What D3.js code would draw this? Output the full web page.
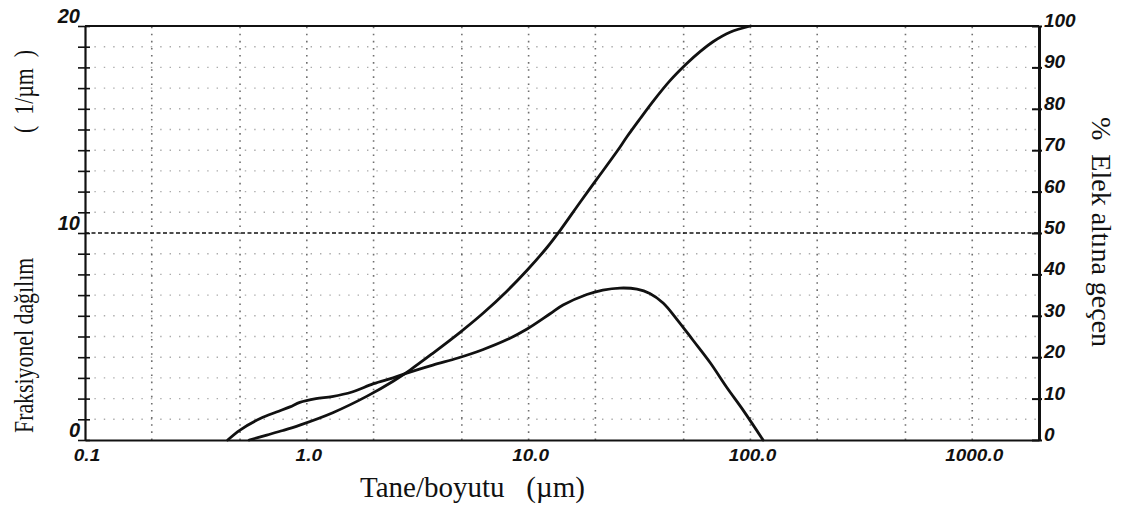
<!DOCTYPE html>
<html>
<head>
<meta charset="utf-8">
<script src="https://cdn.jsdelivr.net/npm/d3@7"></script>
<style>
  html, body { margin: 0; padding: 0; background: #fff; }
  svg { display: block; }
  .tick-lbl { font-family: "Liberation Sans", Arial, sans-serif; font-weight: bold; font-style: italic; fill: #111; }
  .title { font-family: "Liberation Serif", "Times New Roman", serif; fill: #111; white-space: pre; }
</style>
</head>
<body>
<svg id="chart" width="1142" height="510"></svg>
<script>
// Fractional (frequency) distribution: particle size in µm, value in 1/µm
const freqSize  = [0.44, 0.50, 0.62, 0.73, 0.84, 0.93, 1.1, 1.3, 1.6, 2.0, 2.45, 2.8, 3.7, 4.8, 6.2, 8.0, 9.8, 12.5, 14.3, 18.3, 21.6, 25.8, 30.8, 35.2, 40.4, 46.7, 55, 66, 78, 93, 114];
const freqValue = [0, 0.48, 1.05, 1.35, 1.6, 1.82, 2.0, 2.1, 2.32, 2.72, 3.0, 3.22, 3.62, 3.96, 4.36, 4.85, 5.35, 6.1, 6.52, 7.03, 7.24, 7.34, 7.29, 7.08, 6.62, 5.82, 4.83, 3.72, 2.56, 1.42, 0];

// Cumulative undersize: particle size in µm, percent passing the sieve
const cumSize    = [0.55, 0.66, 0.78, 0.93, 1.31, 1.87, 2.45, 2.92, 3.71, 4.91, 6.23, 8.0, 9.84, 12.1, 13.9, 17.1, 20.3, 25.1, 27.8, 31.8, 36.4, 43.4, 51.8, 59.3, 67.8, 80.9, 100];
const cumPercent = [0, 1.2, 2.3, 3.6, 6.6, 10.6, 14.2, 16.9, 21.0, 26.0, 30.6, 36.0, 41.0, 46.5, 50.7, 57.5, 63.0, 69.8, 73.3, 77.6, 81.8, 86.8, 91.0, 93.8, 96.2, 98.5, 100];

// Axis ticks and labels
const sizeTicks      = [0.1, 1, 10, 100, 1000];
const sizeTickLabels = ["0.1", "1.0", "10.0", "100.0", "1000.0"];
const sizeGrid       = [0.2, 0.5, 1, 2, 5, 10, 20, 50, 100, 200, 500, 1000];
const fracTicks      = [0, 1, 2, 3, 4, 5, 6, 7, 8, 9, 10, 11, 12, 13, 14, 15, 16, 17, 18, 19, 20];
const fracTickLabels = [0, 10, 20];
const fracGrid       = [1, 2, 3, 4, 5, 6, 7, 8, 9, 11, 12, 13, 14, 15, 16, 17, 18, 19];
const pctTicks       = [0, 10, 20, 30, 40, 50, 60, 70, 80, 90, 100];
const midLine        = 10;

const svg = d3.select("#chart");
svg.append("rect").attr("width", 1142).attr("height", 510).attr("fill", "#fff");

const x  = d3.scaleLog().domain([0.1, 2000]).range([85, 1039]);
const yL = d3.scaleLinear().domain([0, 20]).range([440, 26]);
const yR = d3.scaleLinear().domain([0, 100]).range([440, 26]);

const [x0, x1] = x.range();
const [yb, yt] = yL.range();

// Dotted graph-paper grid
const grid = svg.append("g").attr("stroke", "#222").attr("fill", "none");
grid.selectAll("line.v").data(sizeGrid).join("line")
  .attr("class", "v")
  .attr("x1", d => x(d)).attr("x2", d => x(d))
  .attr("y1", yb).attr("y2", yt)
  .attr("stroke-width", 1.6).attr("stroke-dasharray", "1.6,5.5").attr("opacity", 0.65);
grid.selectAll("line.h").data(fracGrid).join("line")
  .attr("class", "h")
  .attr("x1", x0).attr("x2", x1)
  .attr("y1", d => yL(d)).attr("y2", d => yL(d))
  .attr("stroke-width", 1.4).attr("stroke-dasharray", "1.4,8").attr("opacity", 0.38);

// 50 % reference line
svg.append("line")
  .attr("x1", x0).attr("x2", x1)
  .attr("y1", yL(midLine)).attr("y2", yL(midLine))
  .attr("stroke", "#111").attr("stroke-width", 1.6).attr("stroke-dasharray", "4,2.5");

// Frame: top border and bottom axis line
svg.append("line").attr("x1", x0).attr("x2", x1).attr("y1", yt).attr("y2", yt)
  .attr("stroke", "#111").attr("stroke-width", 2);
const xAxis = svg.append("g").attr("transform", `translate(0,${yb})`)
  .call(d3.axisBottom(x).tickValues(sizeTicks).tickSize(0).tickFormat(""));
xAxis.select(".domain").attr("stroke", "#111").attr("stroke-width", 2.2);

// Left axis with cross ticks
const yAxisL = svg.append("g").attr("transform", `translate(${x0},0)`)
  .call(d3.axisLeft(yL).tickValues(fracTicks).tickSizeInner(7).tickSizeOuter(0).tickFormat(""));
yAxisL.select(".domain").attr("stroke", "#111").attr("stroke-width", 2.2);
yAxisL.selectAll(".tick line").attr("stroke", "#111").attr("stroke-width", 1.6);
yAxisL.selectAll(".tick").append("line").attr("x1", 0).attr("x2", 5)
  .attr("stroke", "#111").attr("stroke-width", 1.6);

// Right axis (percent)
const yAxisR = svg.append("g").attr("transform", `translate(${x1},0)`)
  .call(d3.axisRight(yR).tickValues(pctTicks).tickSizeInner(3).tickSizeOuter(0).tickFormat(""));
yAxisR.select(".domain").attr("stroke", "#111").attr("stroke-width", 3);
yAxisR.selectAll(".tick line").attr("stroke", "#111").attr("stroke-width", 2);
yAxisR.selectAll(".tick").append("line").attr("x1", -7).attr("x2", 0)
  .attr("stroke", "#111").attr("stroke-width", 2);

// Tick labels
svg.append("g").selectAll("text").data(sizeTicks).join("text")
  .attr("class", "tick-lbl")
  .attr("transform", d => `translate(${x(d) + 2},461) scale(1,0.85)`)
  .attr("text-anchor", "middle").attr("font-size", 19)
  .text((d, i) => sizeTickLabels[i]);

svg.append("g").selectAll("text").data(fracTickLabels).join("text")
  .attr("class", "tick-lbl")
  .attr("x", 80).attr("y", d => yL(d) - 3)
  .attr("text-anchor", "end").attr("font-size", 20)
  .text(d => d);

svg.append("g").selectAll("text").data(pctTicks).join("text")
  .attr("class", "tick-lbl")
  .attr("transform", d => `translate(${x1 + 5},${yR(d) + 1}) scale(1,0.95)`)
  .attr("font-size", 19)
  .text(d => d);

// Data curves
const line = d3.line().curve(d3.curveCatmullRom.alpha(0.5));
const freqPts = freqSize.map((s, i) => [x(s), yL(freqValue[i])]);
const cumPts  = cumSize.map((s, i) => [x(s), yR(cumPercent[i])]);

svg.append("path").attr("d", line(cumPts))
  .attr("fill", "none").attr("stroke", "#111").attr("stroke-width", 2.8)
  .attr("stroke-linejoin", "round").attr("stroke-linecap", "round");
svg.append("path").attr("d", line(freqPts))
  .attr("fill", "none").attr("stroke", "#111").attr("stroke-width", 2.8)
  .attr("stroke-linejoin", "round").attr("stroke-linecap", "round");

// Axis titles
svg.append("text").attr("class", "title")
  .attr("x", 360).attr("y", 497).attr("font-size", 29)
  .text("Tane/boyutu   (µm)");

svg.append("text").attr("class", "title")
  .attr("transform", "translate(33,433) rotate(-90) scale(0.78,1)")
  .attr("font-size", 28)
  .text("Fraksiyonel dağılım");
svg.append("text").attr("class", "title")
  .attr("transform", "translate(33,50) rotate(-90) scale(0.78,1)")
  .attr("text-anchor", "end").attr("font-size", 28)
  .text("(  1/µm  )");

svg.append("text").attr("class", "title")
  .attr("transform", "translate(1092,117) rotate(90)")
  .attr("font-size", 28)
  .text("%  Elek altına geçen");
</script>
</body>
</html>
